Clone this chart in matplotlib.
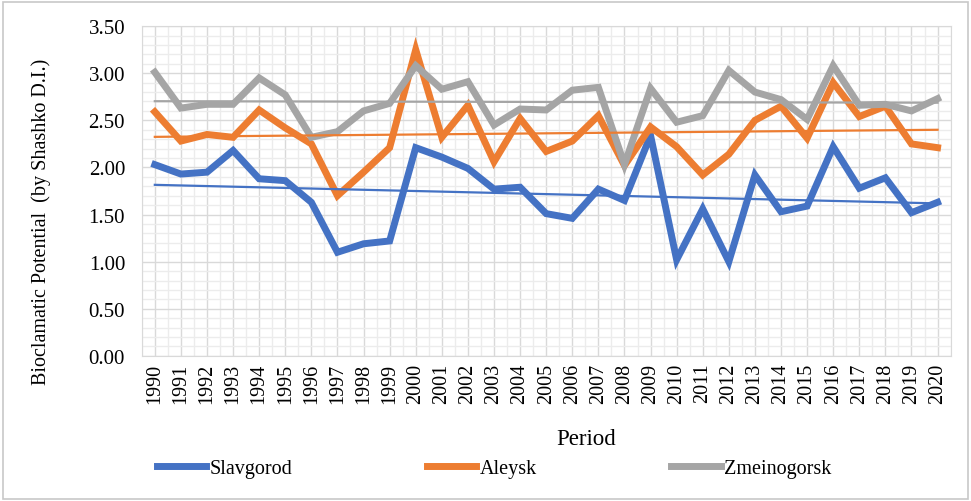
import numpy as np
import matplotlib
matplotlib.use("Agg")
from matplotlib import pyplot as plt
from matplotlib.patches import Rectangle
from matplotlib.ticker import MultipleLocator

years = list(range(1990, 2021))
slavgorod = [2.03, 1.93, 1.95, 2.18, 1.88, 1.86, 1.63, 1.10, 1.19, 1.22,
             2.21, 2.11, 1.99, 1.77, 1.79, 1.51, 1.46, 1.77, 1.65, 2.34,
             1.02, 1.56, 1.00, 1.92, 1.53, 1.59, 2.22, 1.78, 1.89, 1.52, 1.63]
aleysk = [2.59, 2.28, 2.35, 2.32, 2.61, 2.42, 2.25, 1.70, 1.95, 2.21,
          3.25, 2.32, 2.66, 2.06, 2.52, 2.17, 2.28, 2.55, 2.02, 2.43,
          2.22, 1.92, 2.14, 2.50, 2.65, 2.31, 2.90, 2.54, 2.65, 2.25, 2.21]
zmeinogorsk = [3.01, 2.63, 2.67, 2.67, 2.95, 2.77, 2.32, 2.38, 2.60, 2.68,
               3.08, 2.83, 2.91, 2.45, 2.62, 2.61, 2.82, 2.85, 2.03, 2.84,
               2.48, 2.55, 3.03, 2.80, 2.72, 2.51, 3.08, 2.66, 2.67, 2.60, 2.73]
names = ["Slavgorod", "Aleysk", "Zmeinogorsk"]
colors = ["#4472C4", "#ED7D31", "#A5A5A5"]

serif = ["Liberation Serif", "DejaVu Serif"]

fig = plt.figure(figsize=(9.71, 5.02), dpi=100)
ax = fig.add_axes([0.146, 0.289, 0.833, 0.657])
fig.patches.append(Rectangle((0.003, 0.004), 0.994, 0.99, transform=fig.transFigure,
                             fill=False, edgecolor="#c8c8c8", lw=1.2))

x = np.arange(len(years))
for vals, name, c in zip([slavgorod, aleysk, zmeinogorsk], names, colors):
    ax.plot(x, vals, color=c, lw=5, solid_joinstyle="miter", label=name, zorder=3)
    k, b = np.polyfit(x, vals, 1)
    ax.plot(x, k * x + b, color=c, lw=1.6, zorder=4)

ax.set_xlim(-0.5, len(years) - 0.5)
ax.set_ylim(0, 3.5)
ax.set_xticks(x)
ax.set_xticklabels([str(y) for y in years], rotation=90, family=serif, fontsize=14.5)
ax.set_xticks(np.arange(-0.5, len(years), 1.0), minor=True)
ax.yaxis.set_minor_locator(MultipleLocator(0.1))
ax.set_yticks(np.arange(0, 3.51, 0.5))
ax.set_yticklabels(["%.2f" % v for v in np.arange(0, 3.51, 0.5)], family=serif, fontsize=15)
ax.tick_params(which="both", length=0)
ax.tick_params(axis="y", pad=12)
ax.tick_params(axis="x", pad=5)
ax.grid(which="major", color="#d9d9d9", lw=1.0)
ax.grid(which="minor", color="#ececec", lw=1.0)
ax.set_axisbelow(True)
for s in ax.spines.values():
    s.set_color("#d9d9d9")

ax.set_ylabel("Bioclamatic Potential  (by Shashko D.I.)", family=serif, fontsize=14.5)
ax.yaxis.set_label_coords(-0.112, 0.41)
ax.set_xlabel("Period", family=serif, fontsize=16.5)
ax.xaxis.set_label_coords(0.55, -0.22)

handles = [plt.Line2D([], [], color=c, lw=5) for c in colors]
fig.legend(handles, names, loc="lower left", bbox_to_anchor=(0.143, 0.01), ncol=3,
           frameon=False, columnspacing=6.7, handlelength=2.45, handletextpad=0.15,
           prop={"family": serif, "size": 14.5})

fig.savefig("out.png", dpi=100)
